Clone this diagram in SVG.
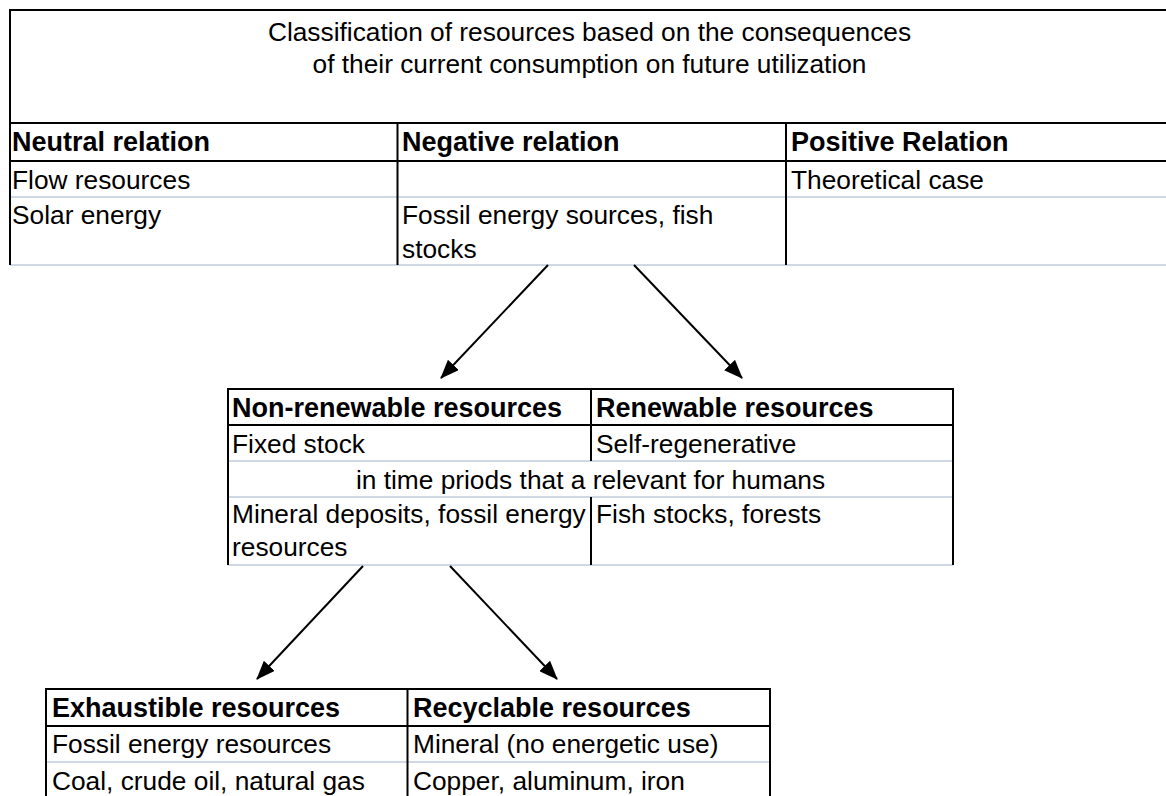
<svg xmlns="http://www.w3.org/2000/svg" width="1166" height="796" viewBox="0 0 1166 796">
<style>
text{font-family:"Liberation Sans",Arial,Helvetica,sans-serif;font-size:26.3px;fill:#000}
.b{font-weight:bold;font-size:27px}
.k{stroke:#000;stroke-width:2;fill:none}
.g{stroke:#d0d7e5;stroke-width:2;fill:none}
.a{stroke:#000;stroke-width:2;fill:none;marker-end:url(#ah)}
</style>
<defs>
<marker id="ah" markerWidth="19" markerHeight="15" refX="18" refY="7.5" orient="auto" markerUnits="userSpaceOnUse">
<path d="M0,0 L19,7.5 L0,15 z" fill="#000"/>
</marker>
</defs>
<rect width="1166" height="796" fill="#fff"/>

<g id="top-table">
<line class="g" x1="10" y1="197" x2="1166" y2="197"/>
<line class="g" x1="10" y1="265" x2="1166" y2="265"/>
<line class="k" x1="9" y1="10" x2="1166" y2="10"/>
<line class="k" x1="10" y1="123" x2="1166" y2="123"/>
<line class="k" x1="10" y1="161" x2="1166" y2="161"/>
<line class="k" x1="10" y1="9" x2="10" y2="265"/>
<line class="k" x1="397.5" y1="123" x2="397.5" y2="265"/>
<line class="k" x1="786" y1="123" x2="786" y2="265"/>
<text x="589.5" y="41" text-anchor="middle">Classification of resources based on the consequences</text>
<text x="589.5" y="73" text-anchor="middle">of their current consumption on future utilization</text>
<text class="b" x="12" y="151">Neutral relation</text>
<text class="b" x="402" y="151">Negative relation</text>
<text class="b" x="791" y="151">Positive Relation</text>
<text x="12" y="189">Flow resources</text>
<text x="791" y="189">Theoretical case</text>
<text x="12" y="224">Solar energy</text>
<text x="402" y="224">Fossil energy sources, fish</text>
<text x="402" y="258">stocks</text>
</g>

<g id="middle-table">
<line class="g" x1="228" y1="461" x2="953" y2="461"/>
<line class="g" x1="228" y1="497" x2="953" y2="497"/>
<line class="g" x1="228" y1="565" x2="953" y2="565"/>
<line class="k" x1="227" y1="389" x2="954" y2="389"/>
<line class="k" x1="228" y1="425" x2="953" y2="425"/>
<line class="k" x1="228" y1="389" x2="228" y2="565"/>
<line class="k" x1="953" y1="389" x2="953" y2="565"/>
<line class="k" x1="591" y1="389" x2="591" y2="461"/>
<line class="k" x1="591" y1="497" x2="591" y2="565"/>
<text class="b" x="232" y="417">Non-renewable resources</text>
<text class="b" x="596" y="417">Renewable resources</text>
<text x="232" y="453">Fixed stock</text>
<text x="596" y="453">Self-regenerative</text>
<text x="590.5" y="489" text-anchor="middle">in time priods that a relevant for humans</text>
<text x="232" y="523">Mineral deposits, fossil energy</text>
<text x="232" y="556">resources</text>
<text x="596" y="523">Fish stocks, forests</text>
</g>

<g id="bottom-table">
<line class="g" x1="46" y1="762" x2="770" y2="762"/>
<line class="k" x1="45" y1="689" x2="771" y2="689"/>
<line class="k" x1="46" y1="726" x2="770" y2="726"/>
<line class="k" x1="46" y1="689" x2="46" y2="796"/>
<line class="k" x1="407.5" y1="689" x2="407.5" y2="796"/>
<line class="k" x1="770" y1="689" x2="770" y2="796"/>
<text class="b" x="52" y="717">Exhaustible resources</text>
<text class="b" x="413" y="717">Recyclable resources</text>
<text x="52" y="753">Fossil energy resources</text>
<text x="413" y="753">Mineral (no energetic use)</text>
<text x="52" y="790">Coal, crude oil, natural gas</text>
<text x="413" y="790">Copper, aluminum, iron</text>
</g>

<g id="connectors">
<line class="a" x1="548" y1="265" x2="441" y2="378"/>
<line class="a" x1="634" y1="265" x2="742" y2="378"/>
<line class="a" x1="363" y1="566" x2="257" y2="679"/>
<line class="a" x1="450" y1="566" x2="557" y2="679"/>
</g>
</svg>
